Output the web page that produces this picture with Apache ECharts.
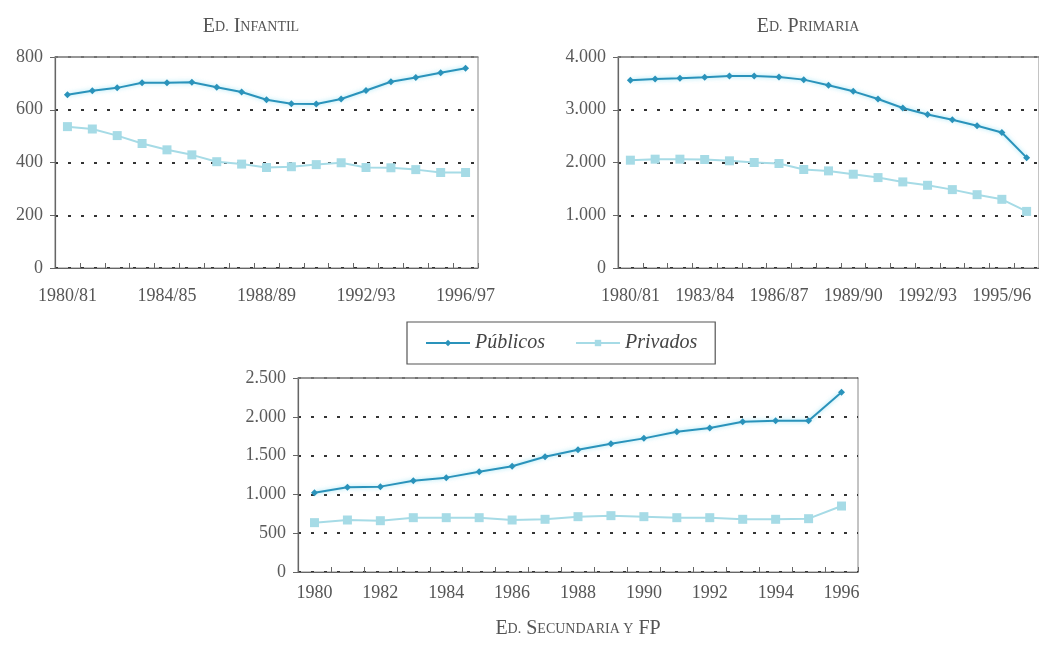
<!DOCTYPE html>
<html><head><meta charset="utf-8">
<script src="https://cdn.jsdelivr.net/npm/echarts@6/dist/echarts.min.js"></script>
<style>html,body{margin:0;padding:0;background:#fff}#c{width:1039px;height:647px}</style>
</head><body><div id="c"></div>
<script>
const catInf = ['1980/81','1981/82','1982/83','1983/84','1984/85','1985/86','1986/87','1987/88','1988/89','1989/90','1990/91','1991/92','1992/93','1993/94','1994/95','1995/96','1996/97'];
const infPub = [657,672,683,702,702,704,685,667,638,623,622,641,673,706,722,740,757];
const infPriv = [536,527,502,472,448,429,403,394,381,384,392,399,381,380,373,362,362];
const catPrim = catInf.slice();
const primPub = [3559,3584,3597,3616,3641,3641,3622,3571,3463,3349,3203,3032,2911,2810,2695,2568,2092];
const primPriv = [2044,2063,2063,2057,2032,2000,1981,1867,1841,1778,1714,1632,1568,1486,1390,1302,1073];
const catSec = ['1980','1981','1982','1983','1984','1985','1986','1987','1988','1989','1990','1991','1992','1993','1994','1995','1996'];
const secPub = [1022,1091,1100,1177,1216,1293,1362,1486,1576,1654,1722,1808,1856,1937,1950,1950,2315];
const secPriv = [636,670,661,700,700,700,670,679,713,726,713,700,700,679,679,687,850];
const seriesNames = ['Públicos','Privados'];

const FONT = 'Liberation Serif';
const PUB = '#2a93bb', PRIV = '#a6dbe6';
function fmt(v){ return String(v).replace(/\B(?=(\d{3})+(?!\d))/g,'.'); }

function xAxis(i, data, interval, margin){
  return {type:'category', gridIndex:i, data:data, boundaryGap:true,
    axisLine:{lineStyle:{color:'#666', width:1.2}},
    axisTick:{show:true, inside:true, length:5, interval:0, lineStyle:{color:'#666'}},
    axisLabel:{interval:interval, margin:margin, fontFamily:FONT, fontSize:18, color:'#555'},
    splitLine:{show:false}};
}
function topAxis(i, data){
  return {type:'category', gridIndex:i, data:data, position:'top', z:5,
    axisLine:{show:true, lineStyle:{color:'#888', width:1.5}},
    axisTick:{show:false}, axisLabel:{show:false}, splitLine:{show:false}};
}
function yAxis(i, max, step){
  return {type:'value', gridIndex:i, min:0, max:max, interval:step,
    axisLine:{show:true, lineStyle:{color:'#666', width:1.2}},
    axisTick:{show:true, length:5, lineStyle:{color:'#666'}},
    axisLabel:{margin:12, fontFamily:FONT, fontSize:18, color:'#5a5a5a', formatter:fmt},
    splitLine:{show:true, lineStyle:{color:'#333', width:2, type:[3,10]}}};
}
function line(name, i, data, isPub){
  return {name:name, type:'line', xAxisIndex:i, yAxisIndex:i, data:data,
    symbol: isPub ? 'diamond' : 'rect', symbolSize: isPub ? 7 : 9,
    itemStyle:{color: isPub ? PUB : PRIV},
    lineStyle:{color: isPub ? PUB : PRIV, width:2,
      shadowColor: isPub ? 'rgba(110,215,240,0.7)' : 'rgba(0,0,0,0)', shadowBlur: isPub ? 4 : 0},
    z:6, animation:false};
}
const rich = {b:{fontFamily:FONT, fontSize:20, fontWeight:'normal', color:'#555'}, s:{fontFamily:FONT, fontSize:14, fontWeight:'normal', color:'#555'}};
function title(text, x, y){
  return {text:text, left:x, top:y, textAlign:'center', textStyle:{fontWeight:'normal', rich:rich}};
}

const chart = echarts.init(document.getElementById('c'), null, {renderer:'canvas'});
chart.setOption({
  animation:false,
  backgroundColor:'#fff',
  title:[
    title('{b|E}{s|D.} {b|I}{s|NFANTIL}', 246, 12),
    title('{b|E}{s|D.} {b|P}{s|RIMARIA}', 803, 12),
    title('{b|E}{s|D.} {b|S}{s|ECUNDARIA Y} {b|FP}', 573, 614)
  ],
  legend:{data:seriesNames, left:407, top:322, padding:[11,18], itemGap:30, itemWidth:44, itemHeight:8,
    borderColor:'#555', borderWidth:1.2, backgroundColor:'#fff',
    textStyle:{fontFamily:FONT, fontStyle:'italic', fontSize:20, color:'#444'}},
  grid:[
    {left:55, top:57, width:423, height:211, show:true, borderColor:'#888', borderWidth:1},
    {left:618, top:57, width:427, height:211, show:true, borderColor:'#888', borderWidth:1},
    {left:298, top:378, width:560, height:194, show:true, borderColor:'#888', borderWidth:1}
  ],
  xAxis:[xAxis(0, catInf, 3, 19), xAxis(1, catPrim, 2, 19), xAxis(2, catSec, 1, 12),
         topAxis(0, catInf), topAxis(1, catPrim), topAxis(2, catSec)],
  yAxis:[yAxis(0, 800, 200), yAxis(1, 4000, 1000), yAxis(2, 2500, 500)],
  series:[
    line(seriesNames[0], 0, infPub, true), line(seriesNames[1], 0, infPriv, false),
    line(seriesNames[0], 1, primPub, true), line(seriesNames[1], 1, primPriv, false),
    line(seriesNames[0], 2, secPub, true), line(seriesNames[1], 2, secPriv, false)
  ]
});
</script></body></html>
